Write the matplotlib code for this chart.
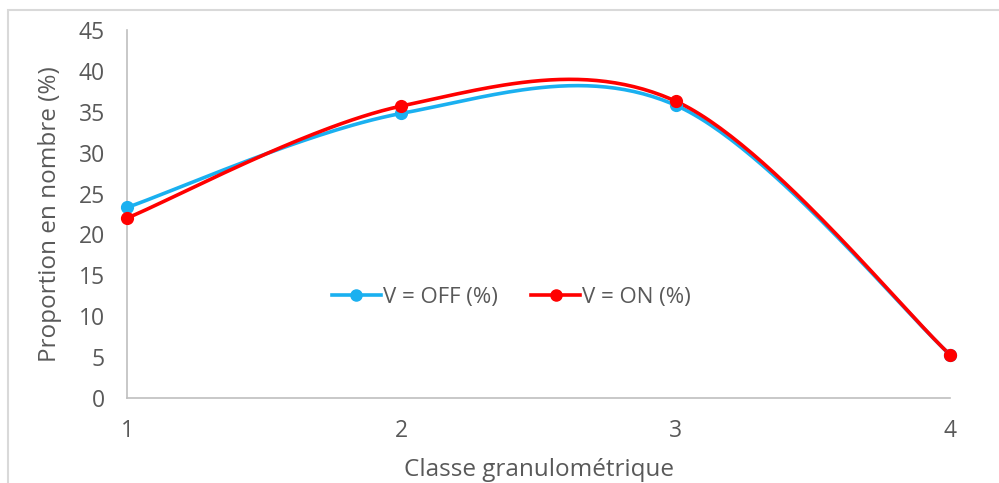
import numpy as np
import matplotlib
matplotlib.use("Agg")
import matplotlib.pyplot as plt
from matplotlib.patches import Rectangle
from matplotlib.lines import Line2D

classes = [1, 2, 3, 4]
v_off = [23.3, 34.8, 35.8, 5.3]
v_on = [22.0, 35.7, 36.3, 5.3]
yticks = [0, 5, 10, 15, 20, 25, 30, 35, 40, 45]

plt.rcParams['font.family'] = ['Open Sans', 'DejaVu Sans']
grey = '#595959'

fig = plt.figure(figsize=(9.99, 4.83), dpi=100)
ax = fig.add_axes([127 / 999, 1 - 398 / 483, (950 - 127) / 999, (398 - 30) / 483])
ax.set_xlim(1, 4)
ax.set_ylim(0, 45)

# chart-area frame
fig.patches.append(Rectangle((8 / 999, -0.1), 1.1, 1 - 10 / 483 + 0.1,
                             transform=fig.transFigure, fill=False,
                             edgecolor='#d9d9d9', linewidth=1.5))


def smooth(xs, ys, n=60):
    """Catmull-Rom style Bezier smoothing computed in display space."""
    pts = ax.transData.transform(np.column_stack([xs, ys]))
    out = []
    m = len(pts)
    for i in range(m - 1):
        p0 = pts[i - 1] if i > 0 else pts[i]
        p1 = pts[i]
        p2 = pts[i + 1]
        p3 = pts[i + 2] if i + 2 < m else pts[i + 1]
        c1 = p1 + (p2 - p0) / 6
        c2 = p2 - (p3 - p1) / 6
        t = np.linspace(0, 1, n)[:, None]
        seg = ((1 - t) ** 3) * p1 + 3 * ((1 - t) ** 2) * t * c1 + 3 * (1 - t) * t ** 2 * c2 + t ** 3 * p2
        out.append(seg if i == 0 else seg[1:])
    curve = np.vstack(out)
    return ax.transData.inverted().transform(curve)


for ys, col in [(v_off, '#1ab0f0'), (v_on, '#ff0000')]:
    c = smooth(classes, ys)
    ax.plot(c[:, 0], c[:, 1], color=col, linewidth=2.6, solid_capstyle='round', zorder=3, clip_on=False)
    ax.plot(classes, ys, 'o', color=col, markersize=8.5, zorder=4, clip_on=False)

for s in ['top', 'right']:
    ax.spines[s].set_visible(False)
for s in ['left', 'bottom']:
    ax.spines[s].set_color('#bfbfbf')
    ax.spines[s].set_linewidth(1.2)

ax.set_xticks(classes)
ax.set_yticks(yticks)
ax.tick_params(axis='both', length=0, labelsize=16.5, labelcolor=grey)
ax.tick_params(axis='x', pad=15)
ax.tick_params(axis='y', pad=16)

ax.set_xlabel('Classe granulométrique', fontsize=17.5, color=grey, labelpad=11)
ax.set_ylabel('Proportion en nombre (%)', fontsize=17.5, color=grey, labelpad=12)

handles = [Line2D([], [], color='#1ab0f0', marker='o', linewidth=2.6, markersize=8),
           Line2D([], [], color='#ff0000', marker='o', linewidth=2.6, markersize=8)]
leg = ax.legend(handles, ['V = OFF (%)', 'V = ON (%)'], loc='center',
                bbox_to_anchor=(0.467, 0.274), ncol=2, frameon=False,
                fontsize=16, handlelength=2.2, handletextpad=0.1, columnspacing=1.5)
for t in leg.get_texts():
    t.set_color(grey)

fig.savefig('out.png', dpi=100)
